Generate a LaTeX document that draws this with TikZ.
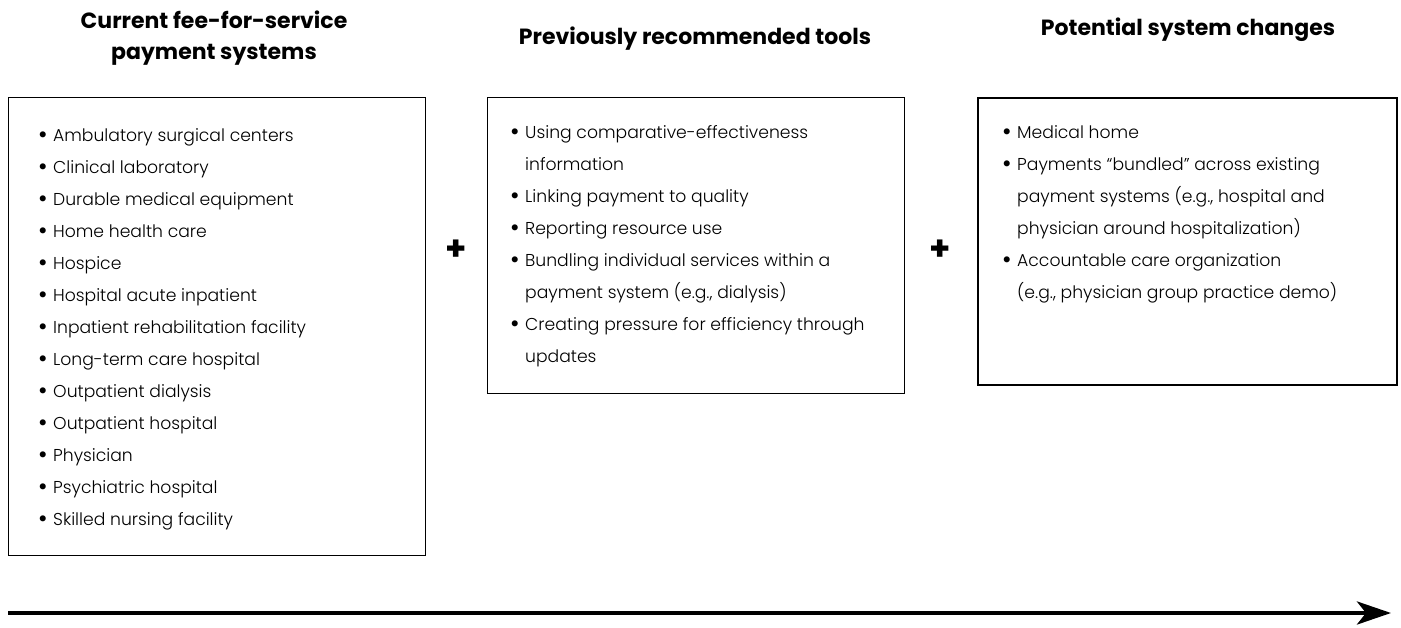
\documentclass[tikz,border=0pt]{standalone}
\usepackage{fontspec}
\setmainfont{Poppins}[UprightFont={* Light}, BoldFont={* Bold}]
\usetikzlibrary{arrows.meta}

\tikzset{
  panel/.style={draw, line width=0.9pt, anchor=north west, inner sep=0pt},
  itemlist/.style={anchor=north west, align=left, inner sep=0pt,
    font=\fontsize{17.2}{32}\selectfont},
  heading/.style={font=\bfseries\fontsize{22}{31}\selectfont, align=center},
  plus/.style={font=\bfseries\fontsize{34}{34}\selectfont, inner sep=0pt}
}
\newcommand{\bul}{\makebox[15pt][l]{\raisebox{-2.6pt}{\fontsize{26}{0}\selectfont\textbullet}}}
\newcommand{\cont}{\hspace*{15pt}}

\begin{document}
\begin{tikzpicture}[x=1pt, y=-1pt]
  \useasboundingbox (0,0) rectangle (1401,627);

  % headings
  \node[heading] (head1) at (214,38) {Current fee-for-service\\payment systems};
  \node[heading] (head2) at (695,39) {Previously recommended tools};
  \node[heading] (head3) at (1188,30) {Potential system changes};

  % boxes
  \node[panel, minimum width=417pt, minimum height=458pt] (box1) at (8,97) {};
  \node[panel, minimum width=417pt, minimum height=296pt] (box2) at (487,97) {};
  \node[panel, line width=1.6pt, minimum width=419pt, minimum height=287pt] (box3) at (977,97) {};

  \node[itemlist] (list1) at (38,128) {%
    \bul Ambulatory surgical centers\\
    \bul Clinical laboratory\\
    \bul Durable medical equipment\\
    \bul Home health care\\
    \bul Hospice\\
    \bul Hospital acute inpatient\\
    \bul Inpatient rehabilitation facility\\
    \bul Long-term care hospital\\
    \bul Outpatient dialysis\\
    \bul Outpatient hospital\\
    \bul Physician\\
    \bul Psychiatric hospital\\
    \bul Skilled nursing facility};

  \node[itemlist] (list2) at (510,125) {%
    \bul Using comparative-effectiveness\\
    \cont information\\
    \bul Linking payment to quality\\
    \bul Reporting resource use\\
    \bul Bundling individual services within a\\
    \cont payment system (e.g., dialysis)\\
    \bul Creating pressure for efficiency through\\
    \cont updates};

  \node[itemlist] (list3) at (1002,125) {%
    \bul Medical home\\
    \bul Payments “bundled” across existing\\
    \cont payment systems (e.g., hospital and\\
    \cont physician around hospitalization)\\
    \bul Accountable care organization\\
    \cont (e.g., physician group practice demo)};

  % plus signs
  \node[plus] (plus1) at (456,250) {+};
  \node[plus] (plus2) at (940,250) {+};

  % time arrow
  \coordinate (arrowstart) at (8,613);
  \coordinate (arrowend) at (1391,613);
  \draw[line width=4.5pt, -{Stealth[length=34pt, width=23pt, inset=9pt]}] (arrowstart) -- (arrowend);
\end{tikzpicture}
\end{document}
